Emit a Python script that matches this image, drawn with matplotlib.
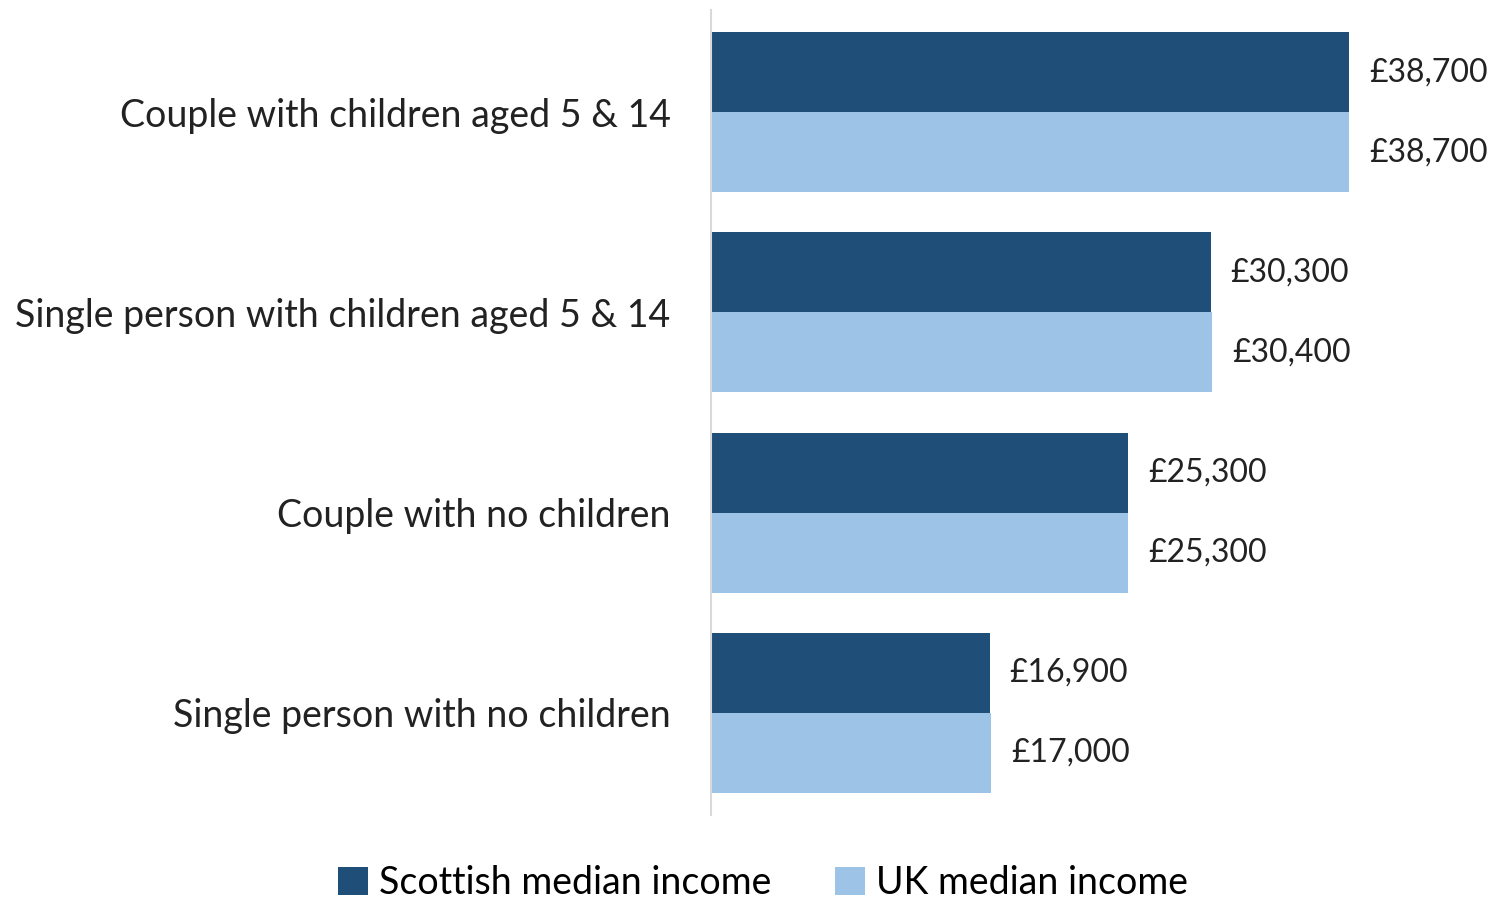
import matplotlib.pyplot as plt
import numpy as np

categories = [
    "Couple with children aged 5 & 14",
    "Single person with children aged 5 & 14",
    "Couple with no children",
    "Single person with no children",
]
scottish = [38700, 30300, 25300, 16900]
uk = [38700, 30400, 25300, 17000]

dark = "#1F4E79"
light = "#9DC3E6"

plt.rcParams["font.family"] = ["Lato", "DejaVu Sans"]

fig = plt.figure(figsize=(14.96, 8.99), dpi=100)
ax = fig.add_axes([711 / 1496, 84 / 899, 779 / 1496, 805 / 899])

y = np.arange(len(categories))
h = 0.4
ax.barh(y - h / 2, scottish, height=h, color=dark, label="Scottish median income")
ax.barh(y + h / 2, uk, height=h, color=light, label="UK median income")

for yi, v in zip(y - h / 2, scottish):
    ax.text(v + 1200, yi, f"£{v:,}", va="center", ha="left", fontsize=23, color="#222222")
for yi, v in zip(y + h / 2, uk):
    ax.text(v + 1200, yi, f"£{v:,}", va="center", ha="left", fontsize=23, color="#222222")

ax.set_xlim(0, 779 / (638 / 38700))
ax.set_ylim(3 + 0.4 + 0.11, -0.4 - 0.11)
ax.set_yticks(y)
ax.set_yticklabels(categories, fontsize=27, color="#222222")
ax.tick_params(axis="y", length=0, pad=29)
ax.set_xticks([])

for s in ["top", "right", "bottom"]:
    ax.spines[s].set_visible(False)
ax.spines["left"].set_color("#D9D9D9")
ax.spines["left"].set_linewidth(1.5)

fig.legend(loc="center", bbox_to_anchor=(763 / 1496, 1 - 883 / 899), ncol=2,
           frameon=False, fontsize=27, handlelength=0.8, handleheight=0.8,
           handletextpad=0.3, columnspacing=1.7)

fig.savefig("out.png", dpi=100)
